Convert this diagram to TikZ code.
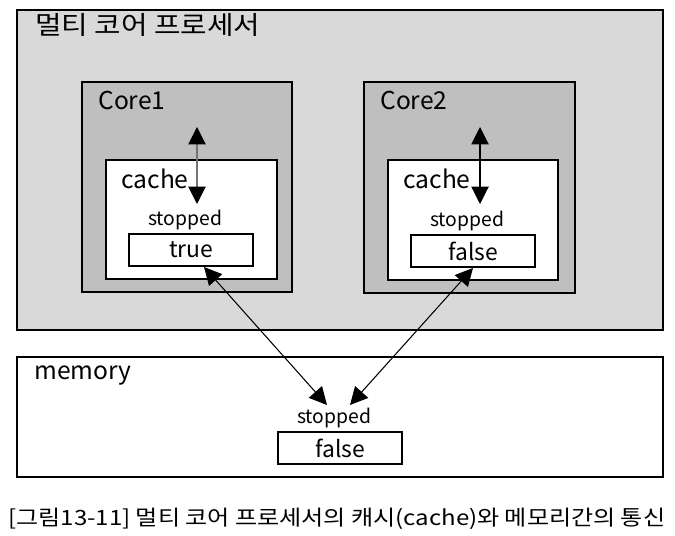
\documentclass[tikz,border=0pt]{standalone}
\usepackage{fontspec}
\usepackage{graphicx}
\setmainfont{Noto Sans CJK KR}
\usetikzlibrary{arrows.meta,fit}
\begin{document}
\begin{tikzpicture}[x=0.02cm,y=-0.02cm,
  box/.style={draw=black,line width=0.8pt,inner sep=0pt},
  lbl/.style={anchor=west,inner sep=0pt,font=\fontsize{14}{16}\selectfont},
  small/.style={inner sep=0pt,font=\fontsize{11}{13}\selectfont},
  val/.style={inner sep=0pt,font=\fontsize{13}{15}\selectfont},
  dbl/.style={line width=0.6pt,{Triangle[width=3.5mm,length=3.5mm,color=black,fill=black]}-{Triangle[width=3.5mm,length=3.5mm,color=black,fill=black]}}]
\definecolor{outergray}{RGB}{217,217,217}
\definecolor{coregray}{RGB}{191,191,191}
\useasboundingbox (0,0) rectangle (675,536);
% processor
\node[box,fill=outergray,fit={(17,10) (663,330)}] (proc) {};
\node[lbl,font=\fontsize{14.5}{17}\selectfont] (proct) at (35,25) {\resizebox{4.5cm}{\height}{멀티 코어 프로세서}};
% core1
\node[box,fill=coregray,fit={(82,82) (292,292)}] (core1) {};
\node[lbl] (core1t) at (98,100) {Core1};
\node[box,fill=white,fit={(106,160) (277,279)}] (cache1) {};
\node[lbl] (cache1t) at (121,179) {cache};
\node[small] (stop1) at (185,220) {stopped};
\node[box,fill=white,fit={(129,234) (253,266)}] (val1) {};
\node[val] at (val1) {true};
\coordinate (c1top) at (197,127);
\coordinate (c1bot) at (197,204);
\draw[dbl,draw=black!55] (c1top) -- (c1bot);
% core2
\node[box,fill=coregray,fit={(364,82) (575,293)}] (core2) {};
\node[lbl] (core2t) at (380,100) {Core2};
\node[box,fill=white,fit={(388,160) (558,280)}] (cache2) {};
\node[lbl] (cache2t) at (403,179) {cache};
\node[small] (stop2) at (467,221) {stopped};
\node[box,fill=white,fit={(411,235) (535,267)}] (val2) {};
\node[val] at (val2) {false};
\coordinate (c2top) at (480,127);
\coordinate (c2bot) at (480,204);
\draw[dbl] (c2top) -- (c2bot);
% memory
\node[box,fill=white,fit={(17,357) (663,477)}] (mem) {};
\node[lbl] (memt) at (34,376) {memory};
\node[small] (stopm) at (334,418) {stopped};
\node[box,fill=white,fit={(278,432) (402,464)}] (valm) {};
\node[val] at (valm) {false};
\coordinate (a1) at (204,267);
\coordinate (a2) at (327,405);
\coordinate (b1) at (473,268);
\coordinate (b2) at (350,405);
\draw[dbl] (a1) -- (a2);
\draw[dbl] (b1) -- (b2);
% caption
\node[anchor=west,inner sep=0pt,font=\fontsize{12}{14}\selectfont] (cap) at (8,519) {\resizebox{13.14cm}{\height}{[그림13-11] 멀티 코어 프로세서의 캐시(cache)와 메모리간의 통신}};
\end{tikzpicture}
\end{document}
